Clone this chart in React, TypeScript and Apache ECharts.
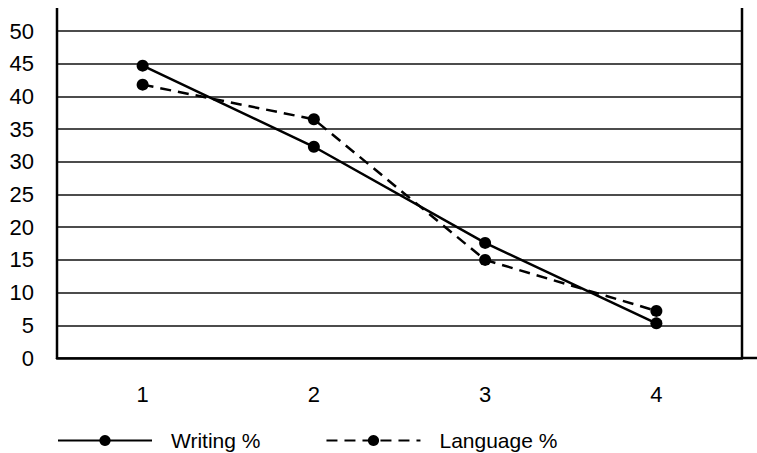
import React, { useEffect, useRef } from "react";
import * as echarts from "echarts";

const categories = ["1", "2", "3", "4"];
const writing = [44.7, 32.3, 17.6, 5.3];
const language = [41.8, 36.5, 15.0, 7.2];
const seriesNames = ["Writing %", "Language %"];

export default function App() {
  const ref = useRef<HTMLDivElement>(null);
  useEffect(() => {
    if (!ref.current) return;
    const chart = echarts.init(ref.current, undefined, { renderer: "svg" });
    const font = "Liberation Sans, Arial, sans-serif";
    chart.setOption({
      animation: false,
      backgroundColor: "#fff",
      textStyle: { fontFamily: font },
      grid: { left: 57, right: 15, top: 31, bottom: 95 },
      legend: {
        left: 52,
        top: 425,
        itemWidth: 94,
        itemHeight: 14,
        itemGap: 65,
        textStyle: { fontSize: 21, color: "#000", fontFamily: font, padding: [0, 0, 0, 14] },
        data: seriesNames,
      },
      xAxis: {
        type: "category",
        data: categories,
        boundaryGap: true,
        axisLine: { show: true, lineStyle: { color: "#000", width: 2.5 } },
        axisTick: { show: false },
        axisLabel: { fontSize: 22, color: "#000", margin: 25, fontFamily: font },
        splitLine: { show: false },
      },
      yAxis: {
        type: "value",
        min: 0,
        max: 50,
        interval: 5,
        axisLine: { show: false },
        axisTick: { show: false },
        axisLabel: { fontSize: 22, color: "#000", margin: 23, fontFamily: font },
        splitLine: { show: true, lineStyle: { color: "#111", width: 1.6 } },
      },
      graphic: [
        { type: "line", shape: { x1: 57, y1: 8, x2: 57, y2: 359 }, style: { stroke: "#000", lineWidth: 2.5 }, z: 10 },
        { type: "line", shape: { x1: 742, y1: 8, x2: 742, y2: 358 }, style: { stroke: "#000", lineWidth: 2.5 }, z: 10 },
        { type: "line", shape: { x1: 742, y1: 358, x2: 757, y2: 358 }, style: { stroke: "#000", lineWidth: 2.5 }, z: 10 },
      ],
      series: [
        {
          name: seriesNames[0],
          type: "line",
          data: writing,
          symbol: "circle",
          symbolSize: 12,
          itemStyle: { color: "#000" },
          lineStyle: { color: "#000", width: 2.5, type: "solid" },
          z: 5,
        },
        {
          name: seriesNames[1],
          type: "line",
          data: language,
          symbol: "circle",
          symbolSize: 12,
          itemStyle: { color: "#000" },
          lineStyle: { color: "#000", width: 2.5, type: [11, 7] },
          z: 5,
        },
      ],
    });
    return () => chart.dispose();
  }, []);
  return (
    <div
      ref={ref}
      style={{ position: "fixed", left: 0, top: 0, width: 757, height: 453, background: "#fff" }}
    />
  );
}
